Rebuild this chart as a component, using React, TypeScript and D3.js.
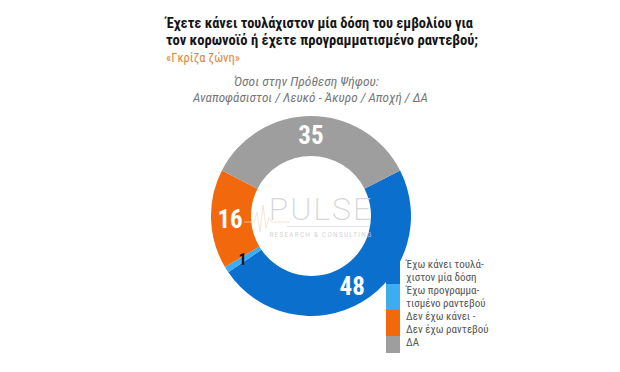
import * as d3 from 'd3';

const categories = [
  'Έχω κάνει τουλάχιστον μία δόση',
  'Έχω προγραμματισμένο ραντεβού',
  'Δεν έχω κάνει - Δεν έχω ραντεβού',
  'ΔΑ',
];
const values = [48, 1, 16, 35];
const legendLines = [
  ['Έχω κάνει τουλά-', 'χιστον μία δόση'],
  ['Έχω προγραμμα-', 'τισμένο ραντεβού'],
  ['Δεν έχω κάνει -', 'Δεν έχω ραντεβού'],
  ['ΔΑ'],
];
const colors = ['#0b6fce', '#3badf0', '#f2680c', '#9e9e9e'];
const labelColors = ['#fff', '#111', '#fff', '#fff'];

const titleLines = [
  'Έχετε κάνει τουλάχιστον μία δόση του εμβολίου για',
  'τον κορωνοϊό ή έχετε προγραμματισμένο ραντεβού;',
];
const subtitle = '«Γκρίζα ζώνη»';
const groupLines = ['Όσοι στην Πρόθεση Ψήφου:', 'Αναποφάσιστοι / Λευκό - Άκυρο / Αποχή / ΔΑ'];

const FONT = "'Roboto Condensed','Liberation Sans Narrow','DejaVu Sans Condensed',Roboto,sans-serif";

export default function App() {
  const width = 620;
  const height = 372;
  const cx = 311;
  const cy = 216;
  const outerR = 100;
  const innerR = 60;

  const start = (63 * Math.PI) / 180;
  const pie = d3
    .pie<number>()
    .sort(null)
    .startAngle(start)
    .endAngle(start + 2 * Math.PI);
  const arcs = pie(values);
  const arc = d3.arc<d3.PieArcDatum<number>>().innerRadius(innerR).outerRadius(outerR);
  const labelArc = d3.arc<d3.PieArcDatum<number>>().innerRadius(81).outerRadius(81);

  // legend rows: two-line items are 26px, single line 17px
  const rowH = legendLines.map((l) => (l.length > 1 ? 26 : 17));
  const rowY = d3.cumsum([258, ...rowH]).slice(0, legendLines.length);

  return (
    <svg
      width={width}
      height={height}
      style={{ position: 'absolute', left: 0, top: 0, background: '#fff' }}
      fontFamily={FONT}
    >
      {/* title */}
      {titleLines.map((t, i) => (
        <text
          key={t}
          x={166}
          y={28 + i * 17}
          fontSize={14.5}
          fontWeight={700}
          fill="#151515"
          textLength={i === 0 ? 307 : 312}
          lengthAdjust="spacingAndGlyphs"
        >
          {t}
        </text>
      ))}
      <text x={166} y={62} fontSize={12.5} fill="#e0843a" textLength={74} lengthAdjust="spacingAndGlyphs">
        {subtitle}
      </text>
      {groupLines.map((t, i) => (
        <text
          key={t}
          x={i === 0 ? 306.5 : 310.5}
          y={86 + i * 16}
          fontSize={13}
          fontStyle="italic"
          fill="#777"
          textAnchor="middle"
          textLength={i === 0 ? 145 : 235}
          lengthAdjust="spacingAndGlyphs"
        >
          {t}
        </text>
      ))}

      {/* donut */}
      <g transform={`translate(${cx},${cy})`}>
        {arcs.map((a, i) => (
          <path key={categories[i]} d={arc(a)!} fill={colors[i]} />
        ))}
        {arcs.map((a, i) => {
          const [x, y] = labelArc.centroid(a);
          return (
            <text
              key={'l' + i}
              x={x}
              y={y}
              dy="0.36em"
              textAnchor="middle"
              fontSize={a.data < 5 ? 16 : 25}
              fontWeight={700}
              fill={labelColors[i]}
            >
              {a.data}
            </text>
          );
        })}
      </g>

      {/* watermark */}
      <g opacity={0.9}>
        <path
          d="M244,222 L254,222 L257,212 L260,232 L263,205 L266,228 L269,218 L272,222 L290,222"
          fill="none"
          stroke="#f3dcc6"
          strokeWidth={0.8}
        />
        <text x={321} y={220} textAnchor="middle" fontSize={32} fontWeight={200} fill="#d2d2d2" fontFamily="Roboto, sans-serif" letterSpacing={2}>
          PULSE
        </text>
        <line x1={287} x2={370} y1={226.5} y2={226.5} stroke="#e2e2e2" strokeWidth={1} />
        <text x={321} y={237} textAnchor="middle" fontSize={6.3} fill="#cfcfcf" fontFamily="Roboto, sans-serif" letterSpacing={1.3}>
          RESEARCH &amp; CONSULTING
        </text>
      </g>

      {/* legend */}
      {legendLines.map((lines, i) => (
        <g key={categories[i]}>
          <rect x={386} y={rowY[i]} width={14} height={rowH[i]} fill={colors[i]} />
          {lines.map((t, j) => (
            <text key={t} x={406} y={rowY[i] + 10 + j * 13} fontSize={11} fill="#555">
              {t}
            </text>
          ))}
        </g>
      ))}
    </svg>
  );
}
